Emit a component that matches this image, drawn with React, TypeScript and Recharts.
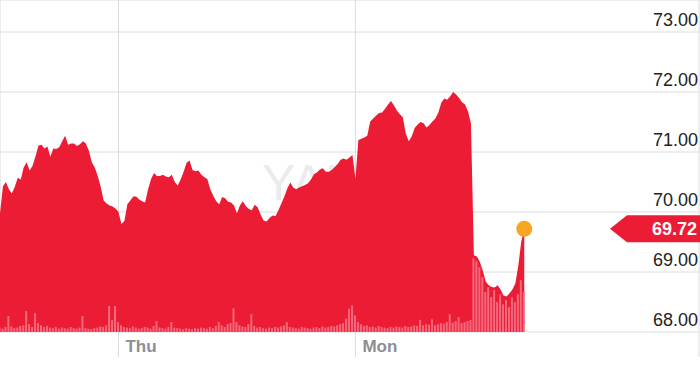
import { ComposedChart, Area, Bar, XAxis, YAxis, CartesianGrid, ReferenceDot } from "recharts";

// 40 slots per trading day; Wed starts at 0
const dayTicks = [40, 120, 236];
const dayLabels: Record<number, string> = { 40: "Thu", 120: "Mon" };
const priceTicks = [68, 69, 70, 71, 72, 73];
const lastPrice = 69.72;

const price = [
  69.98, 70.43, 70.5, 70.38, 70.31, 70.42, 70.57, 70.54, 70.74, 70.83,
  70.69, 70.77, 70.93, 71.11, 71.12, 71.06, 71.09, 70.92, 71.06, 71.05,
  71.08, 71.18, 71.27, 71.12, 71.14, 71.14, 71.1, 71.13, 71.18, 71.14,
  71.02, 70.83, 70.74, 70.6, 70.42, 70.19, 70.14, 70.11, 70.09, 70.06,
  70.0, 69.8, 69.85, 70.13, 70.19, 70.26, 70.26, 70.21, 70.18, 70.16,
  70.38, 70.55, 70.65, 70.6, 70.6, 70.62, 70.59, 70.58, 70.62, 70.5,
  70.44, 70.54, 70.67, 70.82, 70.86, 70.7, 70.68, 70.69, 70.62, 70.58,
  70.55, 70.38, 70.27, 70.18, 70.13, 70.25, 70.23, 70.17, 70.16, 70.11,
  69.98, 70.11, 70.18, 70.1, 70.05, 70.03, 70.12, 70.08, 69.96, 69.86,
  69.84, 69.9, 69.94, 69.93, 70.03, 70.14, 70.26, 70.39, 70.49, 70.41,
  70.38, 70.41, 70.43, 70.45, 70.48, 70.54, 70.63, 70.66, 70.71, 70.73,
  70.67, 70.67, 70.7, 70.75, 70.8, 70.87, 70.89, 70.87, 70.91, 70.95,
  70.55, 71.2, 71.22, 71.24, 71.27, 71.51, 71.56, 71.61, 71.65, 71.66,
  71.72, 71.79, 71.85, 71.78, 71.69, 71.63, 71.58, 71.31, 71.18, 71.26,
  71.4, 71.46, 71.5, 71.48, 71.41, 71.45, 71.51, 71.56, 71.66, 71.82,
  71.89, 71.87, 71.93, 72.0, 71.96, 71.9, 71.83, 71.79, 71.68, 71.48,
  69.28, 69.26, 69.17, 69.02, 68.84, 68.78, 68.75, 68.74, 68.78, 68.71,
  68.61, 68.59, 68.64, 68.71, 68.81, 69.11, 69.51, 69.72,
];

// volume, thousands of shares
const volume = [
  40, 30, 45, 145, 50, 35, 40, 55, 60, 190,
  70, 45, 170, 80, 60, 45, 55, 40, 35, 45,
  30, 40, 35, 30, 45, 35, 30, 40, 145, 35,
  30, 25, 35, 40, 50, 45, 60, 235, 110, 235,
  90, 60, 45, 40, 35, 50, 40, 30, 35, 45,
  40, 30, 55, 100, 40, 35, 30, 45, 90, 40,
  35, 30, 25, 35, 30, 25, 35, 30, 40, 35,
  30, 45, 35, 55, 90, 60, 45, 70, 80, 215,
  90, 60, 50, 45, 70, 160, 55, 40, 45, 35,
  30, 40, 35, 45, 40, 50, 60, 90, 45, 40,
  35, 30, 45, 40, 35, 30, 40, 45, 35, 50,
  40, 45, 55, 50, 60, 70, 80, 120, 210, 240,
  150, 90, 70, 55, 60, 45, 50, 40, 55, 45,
  40, 35, 45, 40, 50, 45, 40, 55, 45, 50,
  60, 55, 110, 60, 70, 65, 115, 60, 70, 80,
  75, 90, 160, 85, 100, 135, 80, 90, 100, 110,
  665, 640, 585, 495, 360, 405, 315, 380, 270, 340,
  250, 290, 225, 315, 270, 340, 470, 360,
];

const data = price.map((p, i) => ({ t: i, price: p, vol: volume[i] }));

const font = "'Liberation Sans', Arial, Helvetica, sans-serif";

function DayTick(props: any) {
  const label = dayLabels[props.payload.value];
  if (!label) return <g />;
  return (
    <text x={props.x + 7} y={352} fill="#8e8e93" fontSize={17} fontWeight="bold" fontFamily={font}>
      {label}
    </text>
  );
}

function PriceTick(props: any) {
  return (
    <text x={698} y={props.y - 6} textAnchor="end" fill="#222" fontSize={18} fontFamily={font}>
      {Number(props.payload.value).toFixed(2)}
    </text>
  );
}

function PriceTag(props: any) {
  const { cx, cy } = props;
  const pts = `${cx - 89},${cy} ${cx - 72},${cy - 13.5} ${cx + 1},${cy - 13.5} ${cx + 1},${cy + 13.5} ${cx - 72},${cy + 13.5}`;
  return (
    <g>
      <polygon points={pts} fill="#ec1c35" />
      <text x={cx - 2} y={cy + 6.5} textAnchor="end" fill="#fff" fontSize={18} fontWeight="bold" fontFamily={font}>
        {lastPrice.toFixed(2)}
      </text>
    </g>
  );
}

export default function App() {
  return (
    <div style={{ position: "absolute", left: 0, top: 0, width: 700, height: 370, background: "#fff" }}>
      <svg width={700} height={370} style={{ position: "absolute", left: 0, top: 0 }}>
        <text x={262} y={200} fontSize={50} fill="#ebebeb" fontFamily={font}>
          YAHOO!
        </text>
      </svg>
      <div style={{ position: "absolute", left: 0, top: 0 }}>
        <ComposedChart width={700} height={370} data={data} margin={{ top: 0, right: 1, left: 0, bottom: 0 }}>
          <CartesianGrid stroke="#dcdcdc" strokeWidth={1} />
          <XAxis
            dataKey="t"
            type="number"
            domain={[0, 236]}
            ticks={dayTicks}
            tick={<DayTick />}
            tickSize={25}
            tickLine={{ stroke: "#dcdcdc" }}
            axisLine={false}
            height={38}
            allowDataOverflow
          />
          <YAxis
            orientation="right"
            mirror
            width={60}
            domain={[68, 68 + 332 / 60]}
            ticks={priceTicks}
            interval={0}
            tick={<PriceTick />}
            tickLine={false}
            axisLine={false}
            allowDataOverflow
          />
          <YAxis yAxisId="v" hide domain={[0, 3000]} />
          <Area
            dataKey="price"
            type="linear"
            stroke="none"
            fill="#ec1c35"
            fillOpacity={1}
            dot={false}
            activeDot={false}
            isAnimationActive={false}
          />
          <Bar dataKey="vol" yAxisId="v" fill="#f36a7e" barSize={2} activeBar={false} isAnimationActive={false} />
          <ReferenceDot x={price.length - 1} y={lastPrice} r={8} fill="#f6a623" stroke="none" ifOverflow="visible" />
          <ReferenceDot x={236} y={lastPrice} ifOverflow="visible" shape={<PriceTag />} />
        </ComposedChart>
      </div>
    </div>
  );
}
